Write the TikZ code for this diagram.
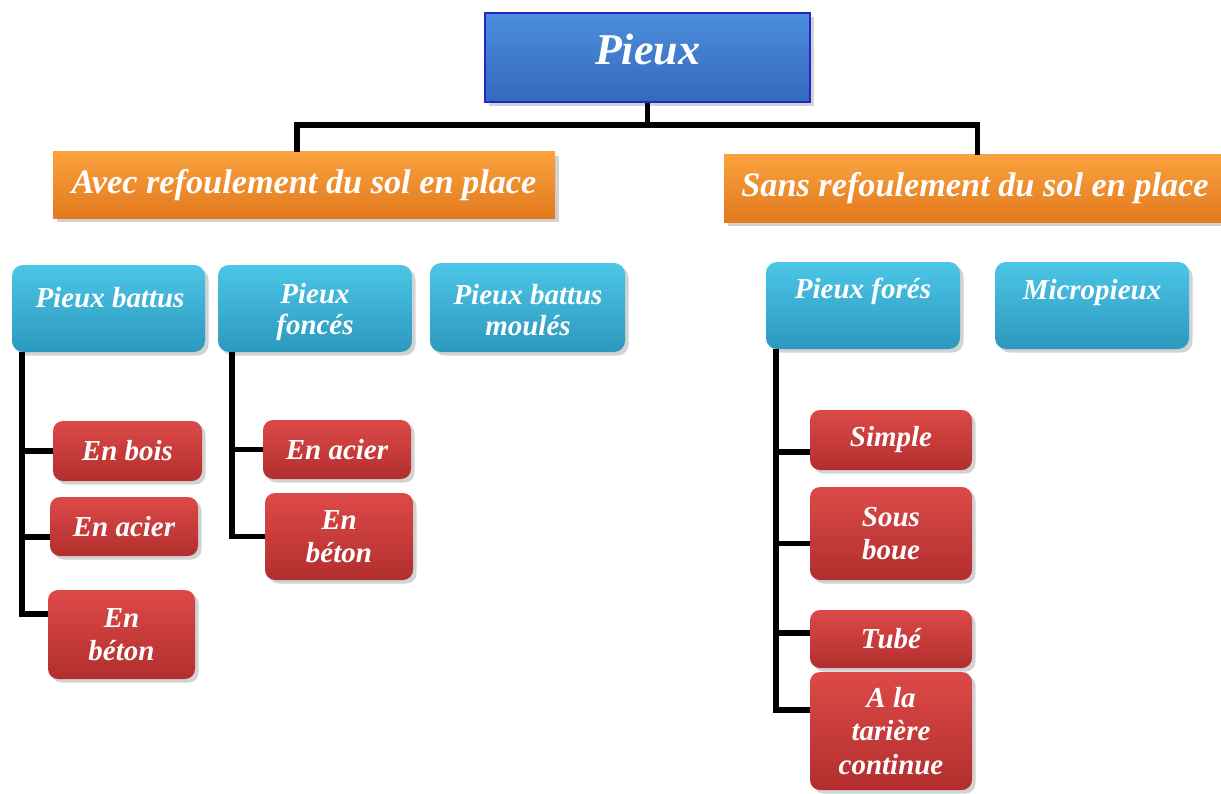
\documentclass[tikz,border=0pt]{standalone}
\usepackage{fontspec}
\setmainfont{Liberation Serif}
\usetikzlibrary{calc,shadows}
\definecolor{blueA}{HTML}{4C8EDC}
\definecolor{blueB}{HTML}{3468BC}
\definecolor{blueE}{HTML}{2626C8}
\definecolor{orA}{HTML}{FAA23E}
\definecolor{orB}{HTML}{E2791E}
\definecolor{cyA}{HTML}{4CC6E6}
\definecolor{cyB}{HTML}{2C98BE}
\definecolor{rdA}{HTML}{DC4A48}
\definecolor{rdB}{HTML}{B22E2E}
\tikzset{
  base/.style={text=white, font=\bfseries\itshape, align=center, inner sep=0pt,
    drop shadow={shadow xshift=2pt, shadow yshift=-2pt, opacity=0.35}},
  topbox/.style={base, top color=blueA, bottom color=blueB, draw=blueE, line width=1.2pt,
    font=\fontsize{25}{30}\selectfont\bfseries\itshape},
  catbox/.style={base, top color=orA, bottom color=orB,
    font=\fontsize{19.5}{22}\selectfont\bfseries\itshape},
  typebox/.style={base, top color=cyA, bottom color=cyB, rounded corners=0.22cm},
  typetxt/.style={text=white, align=center, inner sep=0pt,
    font=\fontsize{16.5}{17.5}\selectfont\bfseries\itshape},
  subbox/.style={base, top color=rdA, bottom color=rdB, rounded corners=0.2cm,
    font=\fontsize{16.5}{19}\selectfont\bfseries\itshape},
  conn/.style={line width=3pt, black},
}
\newcommand{\bx}[7]{\node[#6, minimum width={(#4-#2)*0.02cm}, minimum height={(#5-#3)*0.02cm}]
  (#1) at ({(#2+#4)/2},{(#3+#5)/2}) {#7};}
\begin{document}
\begin{tikzpicture}[x=0.02cm,y=-0.02cm]
\useasboundingbox (0,0) rectangle (1221,794);
\coordinate (hub) at (647.5,125);
\coordinate (lft) at (22,352);
\coordinate (mid) at (232,352);
\coordinate (rgt) at (776,349);
% boxes
\bx{pieux}{485}{13}{810}{102}{topbox}{}
\node[text=white, inner sep=0pt, font=\fontsize{25}{30}\selectfont\bfseries\itshape] (pieuxT) at (647.5,50) {Pieux};
\bx{avec}{53}{152}{555}{218}{catbox}{Avec refoulement du sol en place}
\bx{sans}{724}{155}{1226}{222}{catbox}{Sans refoulement du sol en place}
\bx{battus}{12}{265}{205}{352}{typebox}{}
\bx{fonces}{218}{265}{412}{352}{typebox}{}
\bx{moules}{430}{263}{625}{352}{typebox}{}
\bx{fores}{766}{262}{960}{349}{typebox}{}
\bx{micro}{995}{262}{1189}{349}{typebox}{}
\node[typetxt] (battusT) at (110,298) {Pieux battus};
\node[typetxt] (foncesT) at (315,312) {Pieux\\foncés};
\node[typetxt] (moulesT) at (528,310) {Pieux battus\\moulés};
\node[typetxt] (foresT) at (863,291) {Pieux forés};
\node[typetxt] (microT) at (1092,293) {Micropieux};
\bx{bois}{53}{421}{202}{481}{subbox}{En bois}
\bx{acierA}{50}{497}{198}{556}{subbox}{En acier}
\bx{betonA}{48}{590}{195}{679}{subbox}{En\\béton}
\bx{acierB}{263}{420}{411}{479}{subbox}{En acier}
\bx{betonB}{265}{493}{413}{580}{subbox}{En\\béton}
\bx{simple}{810}{410}{972}{470}{subbox}{Simple}
\bx{boue}{810}{487}{972}{580}{subbox}{Sous\\boue}
\bx{tube}{810}{610}{972}{668}{subbox}{Tubé}
\bx{tariere}{810}{672}{972}{790}{subbox}{A la\\tarière\\continue}
% connectors
\draw[conn] (pieux.south) -- (hub);
\draw[conn] ($(avec.north)+(-7,0)$) |- (hub) -| ($(sans.north)+(2.5,0)$);
\draw[conn] (lft) |- (bois.west);
\draw[conn] (lft) |- ($(acierA.west)+(0,10.5)$);
\draw[conn] (lft) |- ($(betonA.west)+(0,-20.5)$);
\draw[conn] (mid) |- (acierB.west);
\draw[conn] (mid) |- (betonB.west);
\draw[conn] (rgt) |- ($(simple.west)+(0,12)$);
\draw[conn] (rgt) |- ($(boue.west)+(0,10)$);
\draw[conn] (rgt) |- ($(tube.west)+(0,-6)$);
\draw[conn] (rgt) |- ($(tariere.west)+(0,-21)$);
\end{tikzpicture}
\end{document}
